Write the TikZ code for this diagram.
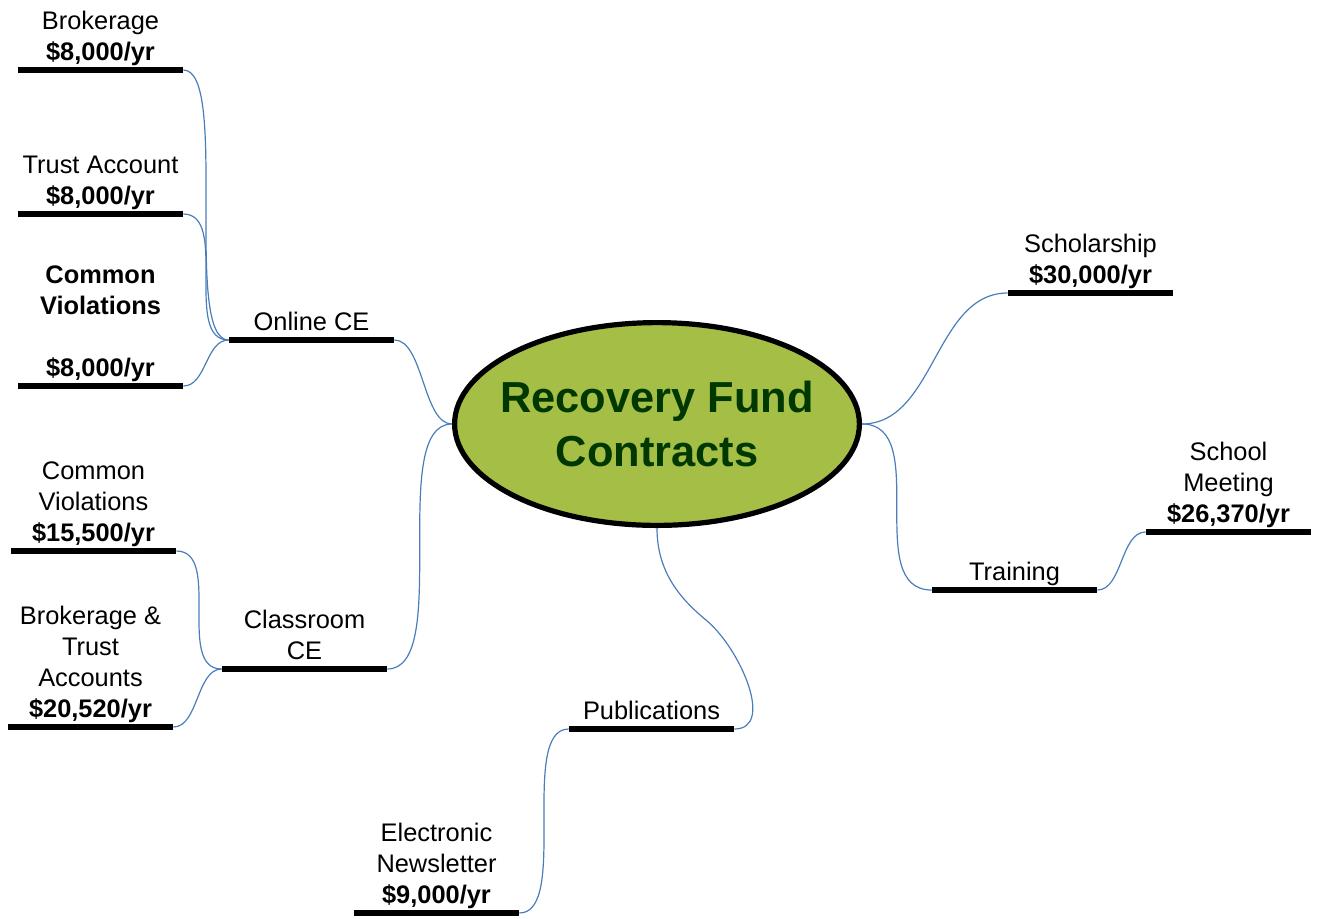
\documentclass[tikz,border=0pt]{standalone}
\usepackage{fontspec}
\setmainfont{Liberation Sans}
\usetikzlibrary{positioning,shapes.geometric}
\definecolor{fundgreen}{RGB}{164,190,70}
\definecolor{funddark}{RGB}{0,56,0}
\definecolor{linkblue}{RGB}{74,126,187}

\begin{document}
\begin{tikzpicture}[x=0.5pt,y=-0.5pt,
    bar/.style={rectangle,fill=black,inner sep=0pt,minimum width=82.5pt,minimum height=2.6pt},
    leaf/.style={align=center,inner sep=0pt,font=\fontsize{12.7}{15.5}\selectfont,execute at end node=\strut},
    hub/.style={ellipse,draw=black,line width=2.6pt,fill=fundgreen,minimum width=202.4pt,minimum height=101.4pt,inner sep=0pt},
    hubtext/.style={align=center,text=funddark,font=\fontsize{21.7}{27}\selectfont\bfseries},
    link/.style={draw=linkblue,line width=0.6pt}]
\useasboundingbox (0,0) rectangle (1319,918);

% centre
\node[hub] (rf) at (657,424) {};
\node[hubtext] (rftext) at (rf) {Recovery Fund\\Contracts};

% bars
\node[bar] (brk)    at (100.5,70)  {};
\node[bar] (trust)  at (100.5,214) {};
\node[bar] (cv1)    at (100.5,386) {};
\node[bar] (online) at (311.5,340) {};
\node[bar] (cv2)    at (93.5,551)  {};
\node[bar] (bta)    at (90.5,727)  {};
\node[bar] (class)  at (304.5,669) {};
\node[bar] (schol)  at (1090.5,293) {};
\node[bar] (train)  at (1014.5,590) {};
\node[bar] (school) at (1228.5,532) {};
\node[bar] (pub)    at (651.5,729) {};
\node[bar] (news)   at (436.5,913) {};
\coordinate (pubbend) at (706,620);

% texts on the bars
\begin{scope}[every node/.style={leaf}]
    \node[above=-1.8pt of brk]    (brktext)    {Brokerage\\\textbf{\$8,000/yr}};
    \node[above=-1.8pt of trust]  (trusttext)  {Trust Account\\\textbf{\$8,000/yr}};
    \node[above=-1.8pt of cv1]    (cv1text)    {\textbf{Common}\\\textbf{Violations}\\\mbox{}\\\textbf{\$8,000/yr}};
    \node[above=-1.8pt of online] (onlinetext) {Online CE};
    \node[above=-1.8pt of cv2]    (cv2text)    {Common\\Violations\\\textbf{\$15,500/yr}};
    \node[above=-1.8pt of bta]    (btatext)    {Brokerage \&\\Trust\\Accounts\\\textbf{\$20,520/yr}};
    \node[above=-1.8pt of class]  (classtext)  {Classroom\\CE};
    \node[above=-1.8pt of schol]  (scholtext)  {Scholarship\\\textbf{\$30,000/yr}};
    \node[above=-1.8pt of train]  (traintext)  {Training};
    \node[above=-1.8pt of school] (schooltext) {School\\Meeting\\\textbf{\$26,370/yr}};
    \node[above=-1.8pt of pub]    (pubtext)    {Publications};
    \node[above=-1.8pt of news]   (newstext)   {Electronic\\Newsletter\\\textbf{\$9,000/yr}};
\end{scope}

% connectors
\begin{scope}[every path/.style={link}]
    \path (brk.east)    .. controls +(46,0) and +(-46,0) .. (online.west);
    \path (trust.east)  .. controls +(46,0) and +(-46,0) .. (online.west);
    \path (cv1.east)    .. controls +(23,0) and +(-23,0) .. (online.west);
    \path (online.east) .. controls +(29,0) and +(-29,0) .. (rf.west);
    \path (cv2.east)    .. controls +(46,0) and +(-46,0) .. (class.west);
    \path (bta.east)    .. controls +(25,0) and +(-25,0) .. (class.west);
    \path (class.east)  .. controls +(65,0) and +(-65,0) .. (rf.west);
    \path (rf.east)     .. controls +(73,0) and +(-73,0) .. (schol.west);
    \path (rf.east)     .. controls +(70,0) and +(-70,0) .. (train.west);
    \path (train.east)  .. controls +(25,0) and +(-25,0) .. (school.west);
    \path (rf.south)    .. controls +(0,42) and +(-28,-23) .. (pubbend)
                        .. controls +(34,28) and +(41,0) .. (pub.east);
    \path (pub.west)    .. controls +(-50,0) and +(50,0) .. (news.east);
\end{scope}
\end{tikzpicture}
\end{document}
